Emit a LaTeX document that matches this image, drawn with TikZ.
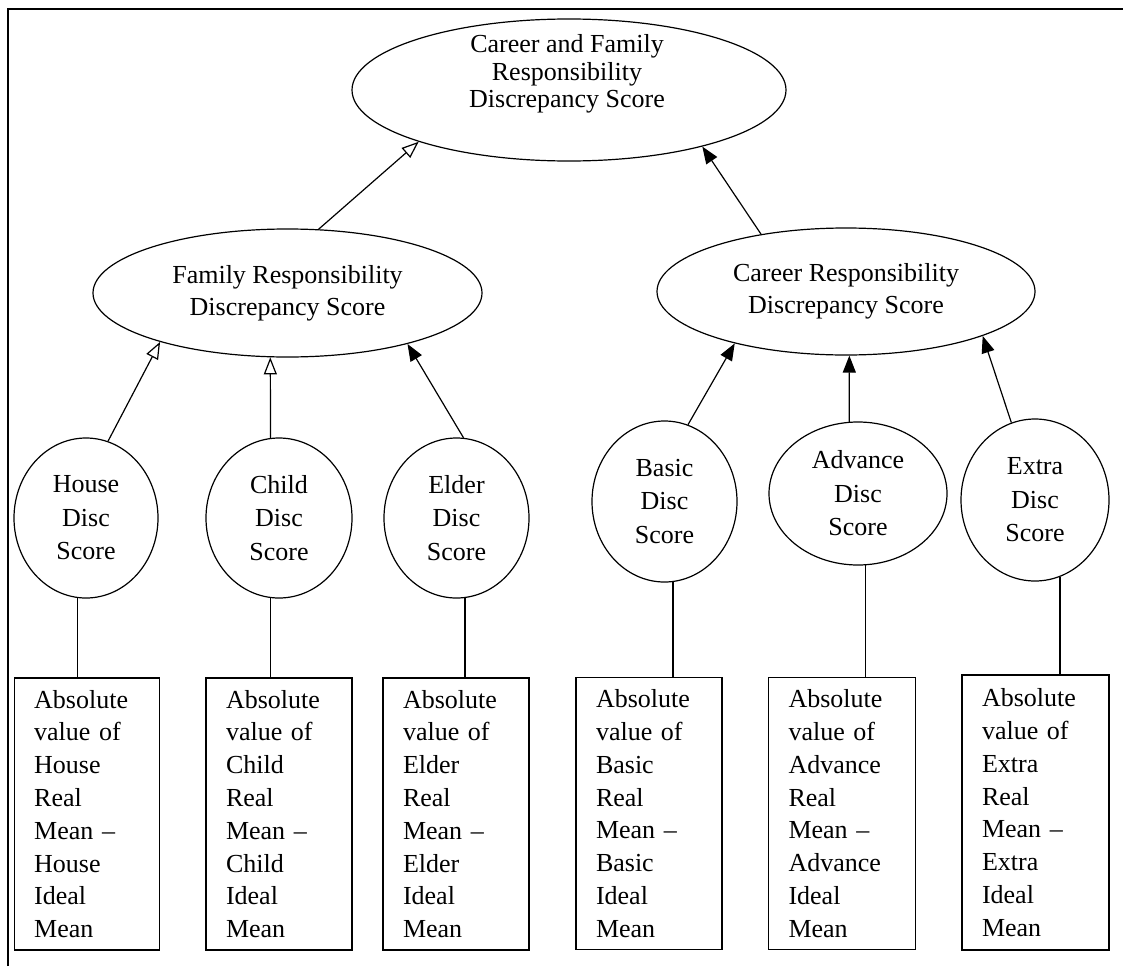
\documentclass[tikz,border=0pt]{standalone}
\usepackage{fontspec}
\setmainfont{Liberation Serif}
\usetikzlibrary{shapes.geometric,arrows.meta}
\begin{document}
\begin{tikzpicture}[x=1pt,y=-1pt,
  ln/.style={line width=1.2pt},
  ell/.style={draw,ellipse,inner sep=0pt,align=center,line width=1.2pt,
    font=\fontsize{26}{32}\selectfont},
  txt/.style={inner sep=0pt,align=center,font=\fontsize{26}{27.5}\selectfont},
  circ/.style={draw,ellipse,inner sep=0pt,align=center,line width=1.2pt,
    font=\fontsize{26}{33.5}\selectfont},
  bx/.style={draw,rectangle,line width=1.2pt,align=left,inner xsep=20pt,
    inner ysep=0pt,minimum height=272pt,font=\fontsize{26}{32.8}\selectfont},
  openarr/.style={ln,-{Triangle[open,length=17pt,width=13pt]}},
  fillarr/.style={ln,-{Triangle[length=17pt,width=13pt]}}
]
\useasboundingbox (0,0) rectangle (1123,966);
% frame
\draw[ln] (8,966) -- (8,9) -- (1123,9);

% top
\node[ell,minimum width=434pt,minimum height=142pt] (top) at (569,90) {};
\node[txt] (toplbl) at (567,74) {Career and Family\\Responsibility\\Discrepancy Score};
\node[ell,minimum width=389pt,minimum height=128pt] (fam) at (287.5,293)
  {Family Responsibility\\Discrepancy Score};
\node[ell,minimum width=378pt,minimum height=127pt] (car) at (846,291.5)
  {Career Responsibility\\Discrepancy Score};

% circles
\node[circ,minimum width=144pt,minimum height=160pt] (hc) at (86,518) {House\\Disc\\Score};
\node[circ,minimum width=146pt,minimum height=160pt] (cc) at (279,518) {Child\\Disc\\Score};
\node[circ,minimum width=145pt,minimum height=160pt] (ec) at (456.5,518) {Elder\\Disc\\Score};
\node[circ,minimum width=145pt,minimum height=161pt] (bc) at (664.5,501.5) {Basic\\Disc\\Score};
\node[circ,minimum width=178pt,minimum height=143pt] (ac) at (858,493.5) {Advance\\Disc\\Score};
\node[circ,minimum width=148pt,minimum height=162pt] (xc) at (1035,500) {Extra\\Disc\\Score};

% boxes
\node[bx,text width=105pt] (hb) at (86.7,814) {Absolute\\value of\\House\\Real\\Mean --\\House\\Ideal\\Mean};
\node[bx,text width=106pt] (cb) at (279,814) {Absolute\\value of\\Child\\Real\\Mean --\\Child\\Ideal\\Mean};
\node[bx,text width=106pt] (eb) at (456,814) {Absolute\\value of\\Elder\\Real\\Mean --\\Elder\\Ideal\\Mean};
\node[bx,text width=106pt] (bb) at (649,813.5) {Absolute\\value of\\Basic\\Real\\Mean --\\Basic\\Ideal\\Mean};
\node[bx,text width=107pt] (ab) at (842,813.5) {Absolute\\value of\\Advance\\Real\\Mean --\\Advance\\Ideal\\Mean};
\node[bx,text width=107pt,minimum height=275pt] (xb) at (1035.5,812.5) {Absolute\\value of\\Extra\\Real\\Mean --\\Extra\\Ideal\\Mean};

% arrows to top
\draw[openarr] (fam.64.9) -- (top.-161.3);
\draw[fillarr] (car.146) -- (top.-23.1);

% arrows to family
\draw[openarr] (hc.74) -- (fam.-159.4);
\draw[openarr] (cc.96.3) -- (fam.-105.3);
\draw[fillarr] (ec.85) -- (fam.-23.2);

% arrows to career
\draw[fillarr] (bc.73.4) -- (car.-155.5);
\draw[fillarr] (ac.97.2) -- (car.-87.3);
\draw[fillarr] (xc.107) -- (car.-18.1);

% circle to box
\draw[ln] (hc.-96.5) -- (hc.-96.5 |- hb.north);
\draw[ln] (cc.-96.5) -- (cc.-96.5 |- cb.north);
\draw[ln] (ec.-84.6) -- (ec.-84.6 |- eb.north);
\draw[ln] (bc.-84.7) -- (bc.-84.7 |- bb.north);
\draw[ln] (ac.-84.4) -- (ac.-84.4 |- ab.north);
\draw[ln] (xc.-72.6) -- (xc.-72.6 |- xb.north);
\end{tikzpicture}
\end{document}
